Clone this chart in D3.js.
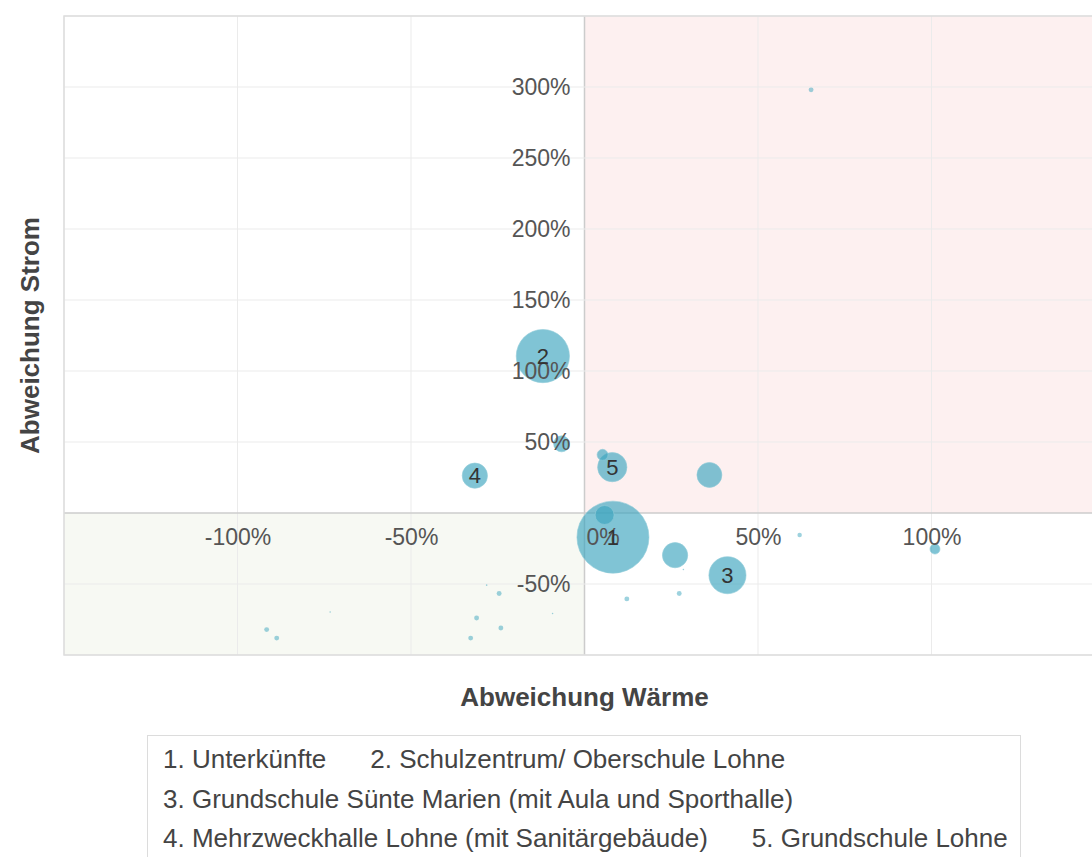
<!DOCTYPE html>
<html>
<head>
<meta charset="utf-8">
<script src="https://cdn.jsdelivr.net/npm/d3@7"></script>
<style>
  body { margin: 0; overflow: hidden; background: #fff; font-family: "Liberation Sans", Arial, sans-serif; }
  #chart { position: absolute; left: 0; top: 0; }
  #legend {
    position: absolute; left: 147px; top: 735px; width: 874px; height: 140px;
    box-sizing: border-box; border: 1px solid #dcdcdc; padding: 4px 0 0 15px;
    font-size: 26px; line-height: 39.5px; color: #444;
    display: flex; flex-wrap: wrap; align-content: flex-start; column-gap: 44px;
  }
  #legend span { white-space: nowrap; }
</style>
</head>
<body>
<svg id="chart" width="1092" height="730"></svg>
<div id="legend"></div>
<script>
// Abweichung Waerme / Strom in Prozent, Blasengroesse = Verbrauch
var waerme = [8.2, -12.0, 41.2, -31.6, 8.0, 36.0, 26.1, 5.8, -6.6, 5.2, 101.0,
              -91.6, -88.7, -73.3, -28.2, -24.6, -31.1, -24.1, -32.8, -9.2, 12.2, 27.3, 28.5, 65.3, 62.0];
var strom = [-17.0, 110.5, -43.8, 26.3, 32.3, 26.8, -29.7, -1.4, 48.7, 41.0, -25.4,
             -82.1, -88.1, -69.7, -50.8, -56.7, -73.9, -81.0, -88.1, -70.8, -60.5, -56.7, -39.8, 298.0, -15.5];
var groesse = [1300, 710, 345, 160, 215, 156, 160, 90, 64, 30, 25,
               6, 6, 0.6, 0.6, 6, 6, 6, 6, 0.6, 6, 6, 0.6, 6, 5];
var nummer = ["1", "2", "3", "4", "5", "", "", "", "", "", "",
              "", "", "", "", "", "", "", "", "", "", "", "", "", ""];

var xTicks = [-100, -50, 0, 50, 100];
var yTicks = [-50, 50, 100, 150, 200, 250, 300];
var tickFormat = function(d){ return d + "%"; };

var legendItems = ["1. Unterkünfte", "2. Schulzentrum/ Oberschule Lohne",
                   "3. Grundschule Sünte Marien (mit Aula und Sporthalle)",
                   "4. Mehrzweckhalle Lohne (mit Sanitärgebäude)", "5. Grundschule Lohne"];

var pLeft = 64, pTop = 16, pRight = 1105, pBottom = 655;

var x = d3.scaleLinear().domain([-150, 150]).range([pLeft, pRight]);
var y = d3.scaleLinear().domain([-100, 350]).range([pBottom, pTop]);
var r = d3.scaleSqrt().domain([0, 1300]).range([0, 36]);

var svg = d3.select("#chart");

var points = waerme.map(function(d, i){
   return {x: d, y: strom[i], s: groesse[i], label: nummer[i]};
});

//QUADRANT BACKGROUNDS
svg.append("rect")
   .attr("x", x(0)).attr("y", pTop)
   .attr("width", pRight - x(0)).attr("height", y(0) - pTop)
   .attr("fill", "#fdf0f0");
svg.append("rect")
   .attr("x", pLeft).attr("y", y(0))
   .attr("width", x(0) - pLeft).attr("height", pBottom - y(0))
   .attr("fill", "#f7f9f3");

//GRIDLINES
svg.selectAll("line.vgrid").data(x.ticks(6)).enter().append("line")
   .attr("class", "vgrid")
   .attr("x1", d => x(d)).attr("x2", d => x(d))
   .attr("y1", pTop).attr("y2", pBottom)
   .attr("stroke", d => d == 0 ? "#cccccc" : "#ebebeb")
   .attr("stroke-width", d => d == 0 ? 1.5 : 1);
svg.selectAll("line.hgrid").data(y.ticks(9)).enter().append("line")
   .attr("class", "hgrid")
   .attr("y1", d => y(d)).attr("y2", d => y(d))
   .attr("x1", pLeft).attr("x2", pRight)
   .attr("stroke", d => d == 0 ? "#cccccc" : "#ebebeb")
   .attr("stroke-width", d => d == 0 ? 1.5 : 1);

//BORDER
svg.append("rect")
   .attr("x", pLeft).attr("y", pTop)
   .attr("width", pRight - pLeft).attr("height", pBottom - pTop)
   .attr("fill", "none")
   .attr("stroke", "#dddddd")
   .attr("stroke-width", 1.5);

//BUBBLES (large first)
var sorted = points.slice().sort((a, b) => b.s - a.s);
svg.selectAll("circle.bubble").data(sorted).enter().append("circle")
   .attr("class", "bubble")
   .attr("cx", d => x(d.x))
   .attr("cy", d => y(d.y))
   .attr("r", d => r(d.s))
   .attr("fill", "#3ca5be")
   .attr("fill-opacity", d => r(d.s) > 3 ? 0.65 : 0.5)
   .attr("stroke", "#8fcbd9")
   .attr("stroke-opacity", 0.6)
   .attr("stroke-width", d => r(d.s) > 3 ? 1 : 0);

//AXES
var xAxis = svg.append("g")
   .attr("transform", "translate(0," + y(0) + ")")
   .call(d3.axisBottom(x).tickValues(xTicks).tickFormat(tickFormat).tickSize(0).tickPadding(16));
var yAxis = svg.append("g")
   .attr("transform", "translate(" + x(0) + ",0)")
   .call(d3.axisLeft(y).tickValues(yTicks).tickFormat(tickFormat).tickSize(0).tickPadding(14));
[xAxis, yAxis].forEach(function(g){
   g.select(".domain").remove();
   g.selectAll("text")
      .attr("font-family", "Liberation Sans, Arial, sans-serif")
      .attr("font-size", "23px")
      .attr("fill", "#555");
});
xAxis.selectAll(".tick text").filter(d => d == 0).attr("dx", "18");

//BUBBLE NUMBERS
svg.selectAll("text.num").data(points.filter(d => d.label != "")).enter().append("text")
   .attr("class", "num")
   .text(d => d.label)
   .attr("x", d => x(d.x))
   .attr("y", d => y(d.y))
   .attr("dy", "0.35em")
   .attr("text-anchor", "middle")
   .attr("font-family", "Liberation Sans, Arial, sans-serif")
   .attr("font-size", "22px")
   .attr("fill", "#333");

//AXIS TITLES
svg.append("text")
   .text("Abweichung Wärme")
   .attr("x", (pLeft + pRight) / 2)
   .attr("y", 697)
   .attr("dy", "0.35em")
   .attr("text-anchor", "middle")
   .attr("font-family", "Liberation Sans, Arial, sans-serif")
   .attr("font-weight", "bold")
   .attr("font-size", "26px")
   .attr("fill", "#444");
svg.append("text")
   .text("Abweichung Strom")
   .attr("transform", "translate(30," + (pTop + pBottom) / 2 + ") rotate(-90)")
   .attr("dy", "0.35em")
   .attr("text-anchor", "middle")
   .attr("font-family", "Liberation Sans, Arial, sans-serif")
   .attr("font-weight", "bold")
   .attr("font-size", "26px")
   .attr("fill", "#444");

//LEGEND
d3.select("#legend").selectAll("span").data(legendItems).enter().append("span")
   .text(d => d);
</script>
</body>
</html>
